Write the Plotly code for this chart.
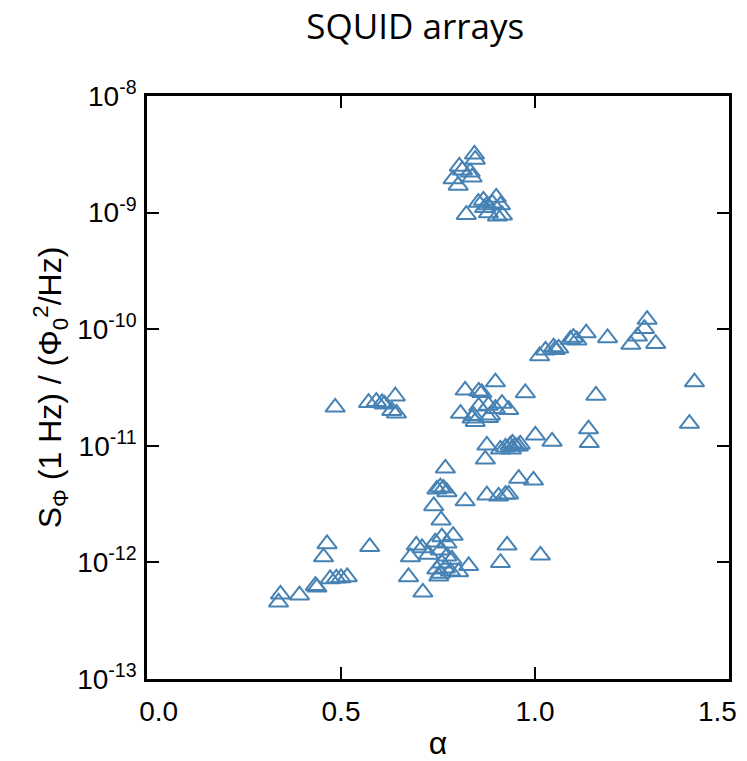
import plotly.graph_objects as go

# alpha values and flux-noise values S_Phi(1 Hz) in Phi0^2/Hz
alpha = [
    # top cluster
    0.844, 0.846, 0.805, 0.813, 0.789, 0.802, 0.833, 0.838,
    0.823, 0.854, 0.867, 0.900, 0.877, 0.890, 0.911, 0.880, 0.903, 0.916, 0.870,
    # upper-right band
    1.012, 1.027, 1.048, 1.052, 1.061, 1.091, 1.099, 1.108, 1.132, 1.187,
    1.247, 1.264, 1.282, 1.289, 1.311, 1.411, 1.157, 0.975, 1.398, 1.138,
    1.140, 1.001, 1.044, 0.958, 0.996,
    # middle-left cluster
    0.485, 0.571, 0.591, 0.606, 0.612, 0.640, 0.631, 0.643,
    # middle cluster
    0.820, 0.855, 0.863, 0.898, 0.808, 0.842, 0.846, 0.855, 0.880, 0.885,
    0.898, 0.915, 0.932, 0.880, 0.838,
    # around 1e-11
    0.876, 0.872, 0.911, 0.924, 0.936, 0.942, 0.949, 0.957, 0.962, 0.939,
    # around 4e-12
    0.769, 0.756, 0.764, 0.747, 0.773, 0.820, 0.739, 0.758, 0.876, 0.906,
    0.924, 0.932,
    # around 1e-12
    0.760, 0.789, 0.773, 0.694, 0.709, 0.679, 0.743, 0.756, 0.773, 0.786,
    0.760, 0.747, 0.769, 0.782, 0.756, 0.803, 0.829, 0.752, 0.674, 0.711,
    0.726, 0.928, 0.911, 1.014,
    # leftmost cluster
    0.464, 0.455, 0.574, 0.344, 0.339, 0.393, 0.434, 0.438, 0.472, 0.488,
    0.500, 0.516,
]

s_phi = [
    3.16e-9, 2.86e-9, 2.49e-9, 2.31e-9, 1.94e-9, 1.71e-9, 2.22e-9, 2.01e-9,
    0.96e-9, 1.22e-9, 1.27e-9, 1.35e-9, 1.16e-9, 1.20e-9, 1.16e-9, 0.99e-9, 0.93e-9, 0.95e-9, 1.10e-9,
    5.89e-11, 6.59e-11, 7.03e-11, 6.68e-11, 6.86e-11, 8.15e-11, 8.47e-11, 8.04e-11, 9.27e-11, 8.41e-11,
    7.38e-11, 8.69e-11, 1.01e-10, 1.21e-10, 7.52e-11, 3.52e-11, 2.70e-11, 2.84e-11, 1.55e-11, 1.39e-11,
    1.06e-11, 1.23e-11, 1.09e-11, 5.24e-12, 5.06e-12,
    2.14e-11, 2.34e-11, 2.39e-11, 2.33e-11, 2.27e-11, 2.66e-11, 2.00e-11, 1.90e-11,
    2.99e-11, 2.93e-11, 2.85e-11, 3.52e-11, 1.89e-11, 1.81e-11, 1.61e-11, 2.18e-11, 2.22e-11, 1.83e-11,
    2.08e-11, 2.30e-11, 2.04e-11, 1.74e-11, 1.72e-11,
    1.01e-11, 7.65e-12, 9.33e-12, 9.70e-12, 1.01e-11, 1.05e-11, 9.90e-12, 9.90e-12, 1.03e-11, 9.33e-12,
    6.41e-12, 4.41e-12, 4.32e-12, 4.23e-12, 4.02e-12, 3.36e-12, 3.05e-12, 2.30e-12, 3.77e-12, 3.69e-12,
    3.82e-12, 3.84e-12,
    1.65e-12, 1.70e-12, 1.46e-12, 1.40e-12, 1.33e-12, 1.11e-12, 1.49e-12, 1.27e-12, 1.13e-12, 1.06e-12,
    9.82e-13, 8.72e-13, 8.89e-13, 8.38e-13, 8.05e-13, 8.28e-13, 9.35e-13, 7.60e-13, 7.50e-13, 5.54e-13,
    1.17e-12, 1.40e-12, 9.93e-13, 1.15e-12,
    1.44e-12, 1.11e-12, 1.36e-12, 5.32e-13, 4.55e-13, 5.23e-13, 6.32e-13, 6.11e-13, 7.21e-13, 7.31e-13,
    7.35e-13, 7.50e-13,
]

x_tickvals = [0.0, 0.5, 1.0, 1.5]
x_ticklabels = ["0.0", "0.5", "1.0", "1.5"]
y_tickvals = [1e-13, 1e-12, 1e-11, 1e-10, 1e-9, 1e-8]
y_ticktext = ["10<sup>-13</sup>", "10<sup>-12</sup>", "10<sup>-11</sup>",
              "10<sup>-10</sup>", "10<sup>-9</sup>", "10<sup>-8</sup>"]

color = "#4682b4"

# the first label sits slightly right of its tick; the last is drawn as an annotation
x_ticktext = ["&nbsp;&nbsp;&nbsp;" + x_ticklabels[0]] + x_ticklabels[1:-1] + [""]

fig = go.Figure()
fig.add_trace(go.Scatter(
    x=alpha, y=s_phi, mode="markers",
    marker=dict(symbol="triangle-up-open", size=17, color=color,
                line=dict(width=2, color=color)),
    showlegend=False,
))

font_family = "Liberation Sans, Arial, sans-serif"

fig.add_annotation(
    x=x_tickvals[-1], y=0, xref="x", yref="paper",
    text=x_ticklabels[-1], showarrow=False,
    xanchor="center", yanchor="top", xshift=-12, yshift=-15,
    font=dict(size=28, family=font_family, color="black"),
)

fig.update_layout(
    width=747, height=761,
    margin=dict(l=147, r=18, t=96, b=82, autoexpand=False),
    paper_bgcolor="white", plot_bgcolor="white",
    font=dict(family=font_family, color="black", size=28),
    title=dict(text="SQUID arrays", x=0.556, xanchor="center", y=0.965, yanchor="middle",
               font=dict(family="Open Sans, sans-serif", size=35, color="black")),
)

fig.update_xaxes(
    range=[0, 1.5], tickvals=x_tickvals, ticktext=x_ticktext,
    showline=True, linecolor="black", linewidth=2.5, mirror="ticks",
    ticks="inside", ticklen=12, tickwidth=2, tickcolor="black",
    showgrid=False, zeroline=False, automargin=False,
    tickfont=dict(size=28), ticklabelstandoff=6, ticklabeloverflow="allow",
    title=dict(text="α", font=dict(size=32), standoff=6),
)
fig.update_yaxes(
    type="log", range=[-13, -8], tickvals=y_tickvals, ticktext=y_ticktext,
    showline=True, linecolor="black", linewidth=2.5, mirror="ticks",
    ticks="inside", ticklen=12, tickwidth=2, tickcolor="black",
    showgrid=False, zeroline=False, automargin=False,
    tickfont=dict(size=28), ticklabelstandoff=2, ticklabeloverflow="allow",
    title=dict(text="S<sub>Φ</sub> (1 Hz) / (Φ<sub>0</sub><sup>2</sup>/Hz)",
               font=dict(size=32), standoff=6),
)

fig.write_html("out.html")
